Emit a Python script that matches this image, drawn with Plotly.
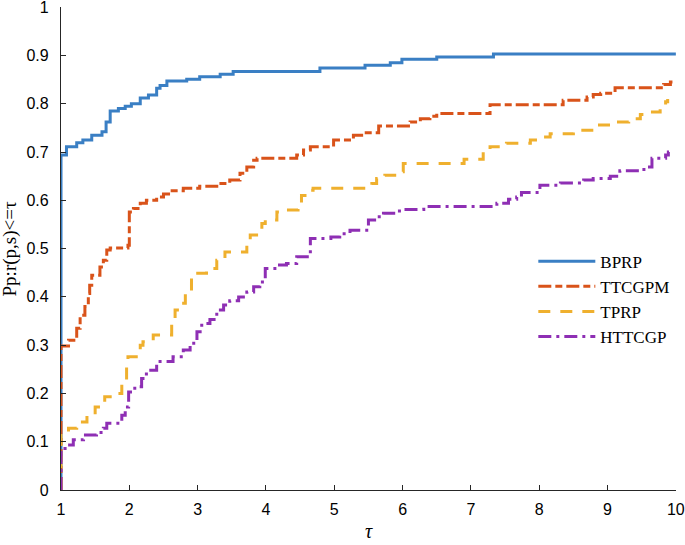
import plotly.graph_objects as go

# ---- data ----
bprp_x = [1, 1, 1.08, 1.23, 1.32, 1.45, 1.6, 1.66, 1.72, 1.84, 1.94, 2.03, 2.16, 2.28, 2.4, 2.45,
          2.55, 2.84, 3.03, 3.33, 3.52, 4.79, 5.45, 5.82, 5.99, 6.5, 7.33, 10]
bprp_y = [0, 0.694, 0.711, 0.719, 0.725, 0.735, 0.742, 0.762, 0.785, 0.79, 0.795, 0.80, 0.812, 0.818,
          0.832, 0.838, 0.847, 0.851, 0.856, 0.861, 0.867, 0.874, 0.880, 0.885, 0.892, 0.897, 0.903, 0.903]

ttcgpm_x = [1, 1, 1.11, 1.23, 1.28, 1.35, 1.4, 1.42, 1.45, 1.57, 1.62, 1.67, 1.72, 1.98, 2.0, 2.06,
            2.16, 2.25, 2.4, 2.5, 2.6, 2.79, 3.03, 3.28, 3.47, 3.62, 3.72, 3.82, 3.87, 4.45, 4.55,
            4.65, 4.99, 5.28, 5.43, 5.65, 6.11, 6.26, 6.4, 6.5, 7.28, 8.35, 8.7, 8.79, 8.9, 9.11,
            9.82, 9.92, 9.95]
ttcgpm_y = [0, 0.298, 0.31, 0.335, 0.362, 0.38, 0.407, 0.424, 0.445, 0.462, 0.476, 0.497, 0.501,
            0.507, 0.576, 0.583, 0.594, 0.60, 0.607, 0.613, 0.62, 0.625, 0.629, 0.635, 0.642, 0.656,
            0.669, 0.683, 0.687, 0.694, 0.704, 0.711, 0.725, 0.735, 0.74, 0.754, 0.762, 0.769, 0.774,
            0.78, 0.798, 0.807, 0.814, 0.819, 0.822, 0.833, 0.84, 0.845, 0.845]

tprp_x = [1, 1, 1.11, 1.23, 1.38, 1.5, 1.64, 1.72, 1.89, 1.96, 1.98, 2.16, 2.2, 2.35, 2.62, 2.67,
          2.74, 2.82, 2.91, 2.96, 3.13, 3.28, 3.4, 3.72, 3.77, 3.94, 3.99, 4.16, 4.25, 4.47, 4.52,
          4.65, 4.69, 5.55, 5.62, 5.74, 5.91, 6.01, 6.9, 7.18, 7.28, 7.52, 7.87, 7.99, 8.16, 8.5,
          8.84, 9.16, 9.31, 9.48, 9.58, 9.77, 9.85, 9.88]
tprp_y = [0, 0.121, 0.128, 0.141, 0.155, 0.172, 0.193, 0.2, 0.224, 0.255, 0.276, 0.30, 0.307, 0.321,
          0.355, 0.373, 0.387, 0.41, 0.435, 0.449, 0.459, 0.476, 0.493, 0.518, 0.528, 0.552, 0.559,
          0.576, 0.58, 0.594, 0.61, 0.621, 0.625, 0.635, 0.645, 0.652, 0.659, 0.676, 0.685, 0.70,
          0.711, 0.718, 0.725, 0.731, 0.738, 0.745, 0.756, 0.762, 0.769, 0.778, 0.783, 0.794,
          0.804, 0.81]

httcgp_x = [1, 1, 1.06, 1.18, 1.33, 1.52, 1.62, 1.67, 1.89, 1.94, 1.99, 2.08, 2.18, 2.25, 2.4, 2.64,
            2.79, 2.89, 2.99, 3.06, 3.18, 3.28, 3.38, 3.47, 3.6, 3.72, 3.82, 3.91, 3.99, 4.16, 4.3,
            4.45, 4.65, 4.95, 5.08, 5.23, 5.5, 5.62, 5.72, 5.87, 6.01, 6.31, 7.38, 7.55, 7.67, 7.74,
            8.01, 8.31, 8.65, 8.79, 9.04, 9.18, 9.48, 9.58, 9.65, 9.85, 9.89, 9.9]
httcgp_y = [0, 0.086, 0.093, 0.104, 0.114, 0.119, 0.128, 0.138, 0.155, 0.172, 0.203, 0.214, 0.231,
            0.248, 0.266, 0.276, 0.29, 0.304, 0.328, 0.345, 0.353, 0.373, 0.383, 0.392, 0.40, 0.41,
            0.421, 0.431, 0.459, 0.466, 0.469, 0.483, 0.521, 0.524, 0.531, 0.538, 0.559, 0.566,
            0.573, 0.578, 0.581, 0.587, 0.594, 0.602, 0.607, 0.616, 0.631, 0.636, 0.642, 0.645,
            0.65, 0.661, 0.664, 0.669, 0.687, 0.694, 0.70, 0.70]

series_names = ["BPRP", "TTCGPM", "TPRP", "HTTCGP"]
x_ticks = [1, 2, 3, 4, 5, 6, 7, 8, 9, 10]
y_ticks = [0, 0.1, 0.2, 0.3, 0.4, 0.5, 0.6, 0.7, 0.8, 0.9, 1]
y_tick_text = ["0", "0.1", "0.2", "0.3", "0.4", "0.5", "0.6", "0.7", "0.8", "0.9", "1"]

# ---- styling ----
colors = ["#3a7fc4", "#d9531a", "#efb02e", "#8e2fb4"]
dashes = ["solid", "13px,4px,7px,4px", "12px,10px", "13px,5px,3px,5px"]
data = [(bprp_x, bprp_y), (ttcgpm_x, ttcgpm_y), (tprp_x, tprp_y), (httcgp_x, httcgp_y)]

fig = go.Figure()
for (xs, ys), name, c, d in zip(data, series_names, colors, dashes):
    n = min(len(xs), len(ys))
    fig.add_trace(go.Scatter(x=xs[:n], y=ys[:n], mode="lines", name=name,
                             line=dict(color=c, width=3, dash=d, shape="hv")))

axis_common = dict(showline=True, linecolor="#262626", linewidth=1.3, ticks="inside",
                   ticklen=5, tickcolor="#262626", tickwidth=1.2, showgrid=False, zeroline=False,
                   mirror=False, automargin=False, ticklabeloverflow="allow",
                   tickfont=dict(family="Liberation Sans, Arial, sans-serif", size=16, color="#000"))

fig.update_layout(
    width=685, height=545,
    margin=dict(l=61, r=9, t=7, b=55),
    paper_bgcolor="white", plot_bgcolor="white",
    xaxis=dict(range=[1, 10.002], tickvals=x_ticks, ticklabelstandoff=5, **axis_common),
    yaxis=dict(range=[0, 1.0004], tickvals=y_ticks, ticktext=y_tick_text, ticklabelstandoff=8,
               **axis_common),
    legend=dict(x=0.768, y=0.51, xanchor="left", yanchor="top", itemwidth=57,
                bgcolor="rgba(0,0,0,0)",
                font=dict(family="Liberation Serif, Times New Roman, serif", size=17, color="#000"),
                tracegroupgap=0),
    showlegend=True,
    annotations=[
        dict(text="Pp:r(p,s)<=τ", xref="paper", yref="paper", x=-0.083, y=0.5,
             xanchor="center", yanchor="middle", textangle=-90, showarrow=False,
             font=dict(family="Liberation Serif, Times New Roman, serif", size=19, color="#000")),
        dict(text="<i>τ</i>", xref="paper", yref="paper", x=0.5, y=-0.084,
             xanchor="center", yanchor="middle", showarrow=False,
             font=dict(family="Liberation Serif, Times New Roman, serif", size=20, color="#000")),
    ],
)

fig.write_html("out.html", post_script="document.body.style.margin='0px';",
               config={"displayModeBar": False})
